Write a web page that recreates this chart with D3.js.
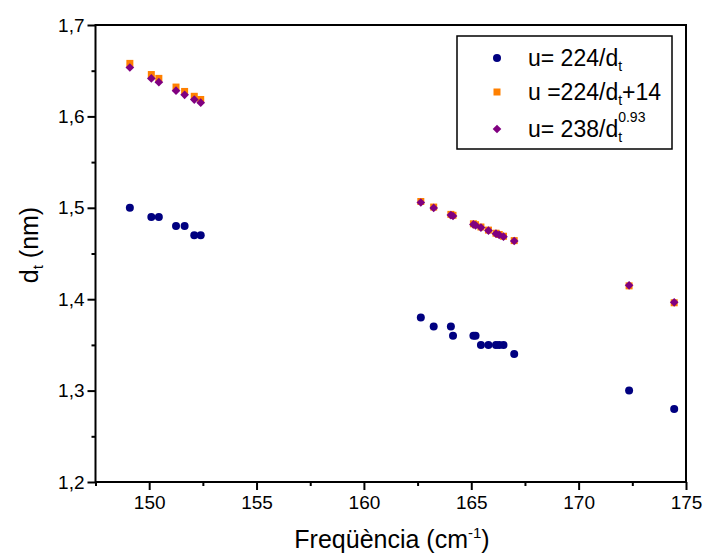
<!DOCTYPE html>
<html>
<head>
<meta charset="utf-8">
<script src="https://cdn.jsdelivr.net/npm/d3@7"></script>
<style>
  body { margin: 0; background: #fff; }
  text { font-family: "Liberation Sans", Arial, sans-serif; fill: #000; }
</style>
</head>
<body>
<svg id="chart" width="706" height="555"></svg>
<script>
// Radial breathing mode frequency (cm^-1) and nanotube diameters from three relations
const freq = [149.1, 150.1, 150.45, 151.25, 151.65, 152.1, 152.4,
              162.65, 163.25, 164.05, 164.15, 165.1, 165.2, 165.45, 165.8, 166.15, 166.3, 166.5, 167.0,
              172.35, 174.45];
const dtSimple = [1.50, 1.49, 1.49, 1.48, 1.48, 1.47, 1.47,
                  1.38, 1.37, 1.37, 1.36, 1.36, 1.36, 1.35, 1.35, 1.35, 1.35, 1.35, 1.34,
                  1.30, 1.28];
const dtOffset = [1.658, 1.6458, 1.6416, 1.6321, 1.6273, 1.622, 1.6185,
                  1.5069, 1.5008, 1.4928, 1.4918, 1.4825, 1.4815, 1.479, 1.4756, 1.4722, 1.4708, 1.4689, 1.4641,
                  1.4146, 1.3961];
const dtPower = [1.6535, 1.6416, 1.6375, 1.6282, 1.6236, 1.6184, 1.615,
                 1.5058, 1.4999, 1.492, 1.491, 1.4818, 1.4808, 1.4784, 1.4751, 1.4717, 1.4703, 1.4684, 1.4637,
                 1.4152, 1.3966];
const xTicks = [150, 155, 160, 165, 170, 175];
const xMinor = [147.5, 152.5, 157.5, 162.5, 167.5, 172.5];
const yTicks = [1.2, 1.3, 1.4, 1.5, 1.6, 1.7];
const yMinor = [1.25, 1.35, 1.45, 1.55, 1.65];

const svg = d3.select("#chart");
const L = 95.5, R = 686, T = 25, B = 482;

const x = d3.scaleLinear().domain([147.5, 175]).range([L, R]);
const y = d3.scaleLinear().domain([1.2, 1.7]).range([B, T]);
const fmt = d => d3.format(".1f")(d).replace(".", ",");

// minor ticks
svg.append("g").attr("transform", `translate(0,${B})`)
  .call(d3.axisBottom(x).tickValues(xMinor).tickSize(4).tickFormat(""))
  .call(g => g.select(".domain").remove());
svg.append("g").attr("transform", `translate(${L},0)`)
  .call(d3.axisLeft(y).tickValues(yMinor).tickSize(4).tickFormat(""))
  .call(g => g.select(".domain").remove());

// major ticks and labels
svg.append("g").attr("transform", `translate(0,${B})`)
  .call(d3.axisBottom(x).tickValues(xTicks).tickSize(8).tickPadding(6).tickFormat(d => d))
  .call(g => g.select(".domain").remove());
svg.append("g").attr("transform", `translate(${L},0)`)
  .call(d3.axisLeft(y).tickValues(yTicks).tickSize(8).tickPadding(3).tickFormat(fmt))
  .call(g => g.select(".domain").remove());

svg.selectAll(".tick line").attr("stroke", "#000").attr("stroke-width", 2);
svg.selectAll(".tick text").attr("font-size", 19).attr("font-family", "Liberation Sans, Arial, sans-serif");

// frame
svg.append("rect").attr("x", L).attr("y", T).attr("width", R - L).attr("height", B - T)
  .attr("fill", "none").attr("stroke", "#000").attr("stroke-width", 2);

// axis titles
const xt = svg.append("text").attr("x", 392).attr("y", 548).attr("text-anchor", "middle").attr("font-size", 25);
xt.append("tspan").text("Freqüència (cm");
xt.append("tspan").attr("font-size", 15).attr("dy", -10).text("-1");
xt.append("tspan").attr("dy", 10).text(")");

const yt = svg.append("text").attr("transform", "translate(38,245) rotate(-90)")
  .attr("text-anchor", "middle").attr("font-size", 25);
yt.append("tspan").text("d");
yt.append("tspan").attr("font-size", 15).attr("dy", 5).text("t");
yt.append("tspan").attr("dy", -5).text(" (nm)");

// series
const pts = freq.map((f, i) => ({ f, a: dtSimple[i], b: dtOffset[i], c: dtPower[i] }));
const navy = "#000080", orange = "#ff8000", purple = "#800080";

svg.append("g").selectAll("circle").data(pts).join("circle")
  .attr("cx", d => x(d.f)).attr("cy", d => y(d.a)).attr("r", 4).attr("fill", navy);
svg.append("g").selectAll("rect").data(pts).join("rect")
  .attr("x", d => x(d.f) - 3.5).attr("y", d => y(d.b) - 3.5).attr("width", 7).attr("height", 7).attr("fill", orange);
const diamond = d3.symbol().type(d3.symbolDiamond2).size(48);
svg.append("g").selectAll("path").data(pts).join("path")
  .attr("transform", d => `translate(${x(d.f)},${y(d.c)})`).attr("d", diamond).attr("fill", purple);

// legend
const lg = svg.append("g");
lg.append("rect").attr("x", 457).attr("y", 36).attr("width", 215).attr("height", 113)
  .attr("fill", "#fff").attr("stroke", "#000").attr("stroke-width", 1.5);
const rows = [58, 92, 129];
lg.append("circle").attr("cx", 497).attr("cy", rows[0]).attr("r", 4).attr("fill", navy);
lg.append("rect").attr("x", 493.5).attr("y", rows[1] - 3.5).attr("width", 7).attr("height", 7).attr("fill", orange);
lg.append("path").attr("transform", `translate(497,${rows[2]})`).attr("d", diamond).attr("fill", purple);

const tx = 528, fs = 23, sub = 14;
const t1 = lg.append("text").attr("x", tx).attr("y", rows[0] + 8).attr("font-size", fs);
t1.append("tspan").text("u= 224/d");
t1.append("tspan").attr("font-size", sub).attr("dy", 5).text("t");

const t2 = lg.append("text").attr("x", tx).attr("y", rows[1] + 8).attr("font-size", fs);
t2.append("tspan").text("u =224/d");
t2.append("tspan").attr("font-size", sub).attr("dy", 5).text("t");
t2.append("tspan").attr("dy", -5).text("+14");

const t3 = lg.append("text").attr("x", tx).attr("y", rows[2] + 8).attr("font-size", fs).text("u= 238/d");
const w3 = t3.node().getComputedTextLength();
lg.append("text").attr("x", tx + w3).attr("y", rows[2] + 13).attr("font-size", sub).text("t");
lg.append("text").attr("x", tx + w3).attr("y", rows[2] - 7).attr("font-size", sub).text("0.93");
</script>
</body>
</html>
